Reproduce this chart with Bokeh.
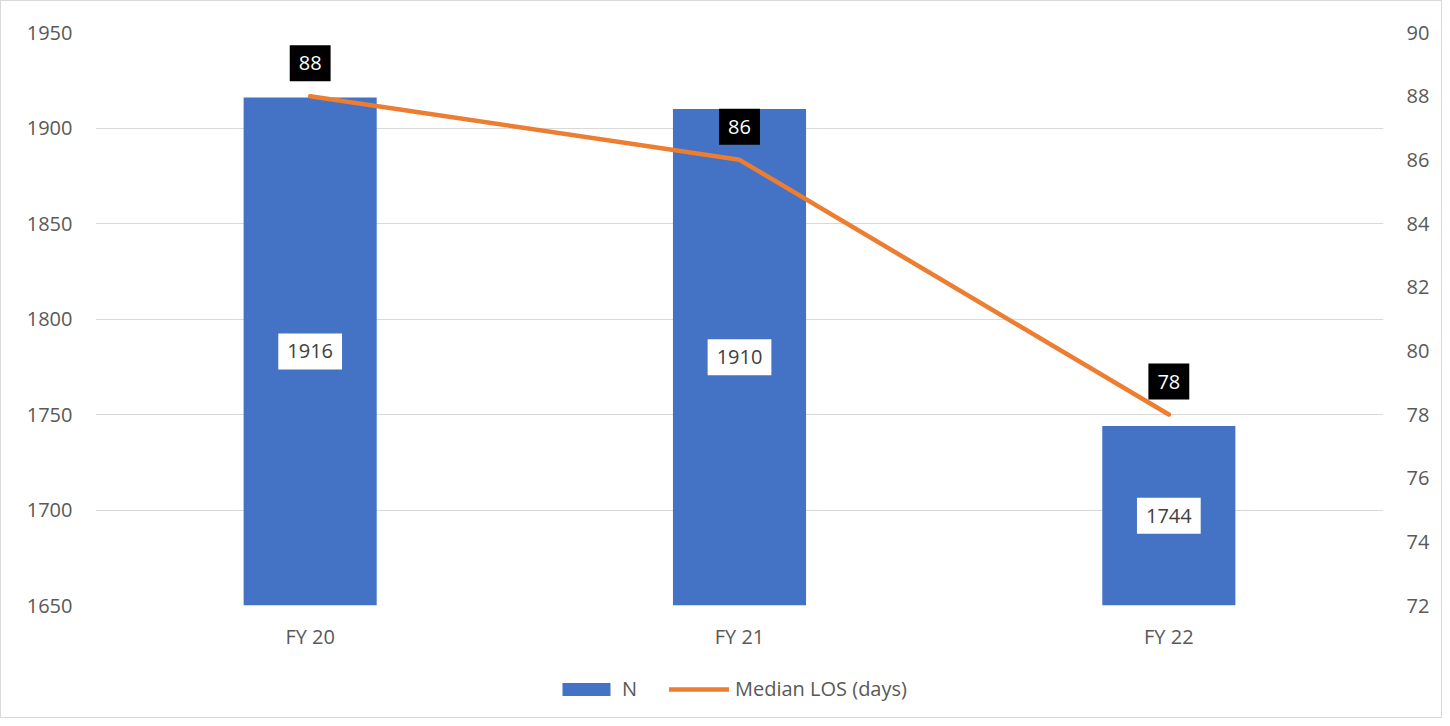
from bokeh.plotting import figure
from bokeh.layouts import column
from bokeh.models import (ColumnDataSource, FactorRange, Range1d, LinearAxis, FixedTicker,
                          Legend, LegendItem)
from bokeh.core.properties import value
from bokeh.embed import file_html
from bokeh.resources import INLINE

categories = ["FY 20", "FY 21", "FY 22"]
n_values = [1916, 1910, 1744]
los_values = [88, 86, 78]
left_ticks = [1650, 1700, 1750, 1800, 1850, 1900, 1950]
right_ticks = [72, 74, 76, 78, 80, 82, 84, 86, 88, 90]
series_names = ["N", "Median LOS (days)"]

FONT = "Open Sans"
BAR_COLOR = "#4472C4"
LINE_COLOR = "#ED7D31"
TEXT_COLOR = "#595959"

base = left_ticks[0]
src = ColumnDataSource(dict(
    cat=categories,
    n=n_values,
    los=los_values,
    mid=[(v + base) / 2 for v in n_values],
    n_txt=[str(v) for v in n_values],
    los_txt=[str(v) for v in los_values],
))

p = figure(width=1440, height=665, x_range=FactorRange(*categories),
           y_range=Range1d(left_ticks[0], left_ticks[-1]),
           output_backend="svg", toolbar_location=None,
           min_border_left=94, min_border_right=58, min_border_top=31, min_border_bottom=61)
p.extra_y_ranges = {"los": Range1d(right_ticks[0], right_ticks[-1])}
p.outline_line_color = None
p.xgrid.grid_line_color = None
p.ygrid.grid_line_color = "#d9d9d9"
p.ygrid.grid_line_width = 1

p.vbar(x="cat", top="n", bottom=base, width=0.31, source=src,
       fill_color=BAR_COLOR, line_color=None)
p.line(x="cat", y="los", source=src, y_range_name="los",
       line_color=LINE_COLOR, line_width=4.5, line_cap="round", line_join="round")

right = LinearAxis(y_range_name="los")
p.add_layout(right, "right")

for ax in [p.xaxis[0], p.yaxis[0], right]:
    ax.axis_line_color = None
    ax.major_tick_line_color = None
    ax.minor_tick_line_color = None
    ax.major_tick_out = 0
    ax.major_tick_in = 0
    ax.minor_tick_out = 0
    ax.major_label_text_font = FONT
    ax.major_label_text_font_size = "20px"
    ax.major_label_text_color = TEXT_COLOR
p.yaxis[0].ticker = FixedTicker(ticks=left_ticks)
right.ticker = FixedTicker(ticks=right_ticks)
p.yaxis[0].major_label_standoff = 23
right.major_label_standoff = 23
p.xaxis[0].major_label_standoff = 17

p.text(x="cat", y="mid", text="n_txt", source=src,
       text_align="center", text_baseline="middle",
       text_font=value(FONT), text_font_size="20px", text_color="#404040",
       background_fill_color="white", padding=(9, 11))
p.text(x="cat", y="los", text="los_txt", source=src, y_range_name="los",
       y_offset=-33, text_align="center", text_baseline="middle",
       text_font=value(FONT), text_font_size="20px", text_color="white",
       background_fill_color="black", padding=(9, 11))

# legend strip (hidden series renderers; only the legend shows)
lg = figure(width=1440, height=51, output_backend="svg", toolbar_location=None,
            x_axis_location=None, y_axis_location=None,
            x_range=FactorRange(*categories), y_range=Range1d(0, 1),
            min_border_left=0, min_border_right=0, min_border_top=0, min_border_bottom=0)
lg.outline_line_color = None
lg.grid.visible = False
r_bar = lg.vbar(x="cat", top="n", bottom=base, width=0.31, source=src,
                fill_color=BAR_COLOR, line_color=None)
r_line = lg.line(x="cat", y="los", source=src, line_color=LINE_COLOR,
                 line_width=4.5, line_cap="round")
r_bar.visible = False
r_line.visible = False
legend = Legend(items=[LegendItem(label=series_names[0], renderers=[r_bar]),
                       LegendItem(label=series_names[1], renderers=[r_line])],
                orientation="horizontal", location=(461, 15),
                glyph_width=60, glyph_height=16, label_standoff=6, spacing=27,
                padding=0, margin=0, border_line_color=None, background_fill_alpha=0,
                inactive_fill_alpha=0,
                label_text_font=FONT, label_text_font_size="20px", label_text_color=TEXT_COLOR)
lg.add_layout(legend, "center")

layout = column(p, lg, spacing=0,
                styles={"border": "1px solid #d9d9d9", "background": "white"})

open("out.html", "w").write(file_html(layout, INLINE))
